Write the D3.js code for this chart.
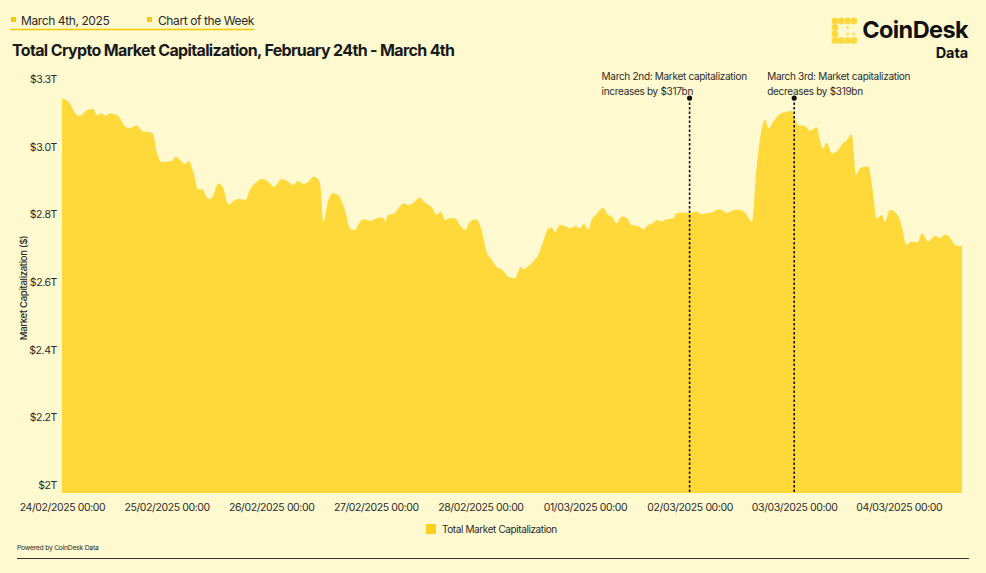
<!DOCTYPE html>
<html>
<head>
<meta charset="utf-8">
<script src="https://cdn.jsdelivr.net/npm/d3@7"></script>
<style>
  body { margin: 0; background: #fef9cf; }
  svg { display: block; font-family: "Inter", "Liberation Sans", sans-serif; }
</style>
</head>
<body>
<div id="chart"></div>
<script>
// ---- data ----
const startDate = "2025-02-24T00:00";
const endHours = 206.5;
// hours since 24/02/2025 00:00
const hoursFromStart = [
  0, 1.8, 2.6, 3.7, 4.5, 5.7, 7.2, 8.0, 9.1, 9.9, 11.0, 12.6, 13.3, 14.5, 15.6, 17.1, 18.7, 19.8, 20.9, 21.7,
  22.9, 24.0, 25.2, 26.1, 27.1, 28.2, 29.1, 30.1, 31.3, 32.1, 33.6, 34.3, 35.9, 37.0, 38.2, 39.7, 40.8, 42.1, 43.1, 44.7,
  45.8, 47.3, 48.7, 50.4, 51.9, 53.1, 54.1, 55.4, 56.5, 57.7, 58.4, 59.2, 60.0, 61.1, 62.2, 63.4, 64.9, 66.1, 67.1, 68.4,
  69.5, 70.7, 72.2, 73.4, 74.1, 74.9, 76.0, 77.2, 78.3, 79.5, 80.6, 82.1, 83.3, 84.8, 86.0, 86.9, 87.9, 89.0, 90.2, 91.3,
  92.5, 93.6, 95.0, 95.9, 96.7, 97.4, 98.6, 99.7, 100.9, 102.0, 102.8, 103.9, 104.7, 105.2, 105.8, 107.0, 108.1, 109.3, 110.4, 111.6,
  112.4, 113.1, 114.3, 115.4, 116.6, 117.7, 118.9, 119.6, 120.8, 121.5, 122.7, 124.2, 125.1, 126.1, 127.3, 128.4, 129.6, 130.7, 132.2, 133.4,
  134.5, 135.7, 136.5, 137.6, 138.7, 140.3, 141.0, 142.6, 144.1, 145.6, 146.8, 147.9, 149.1, 150.6, 151.7, 152.5, 153.7, 155.2, 156.7, 158.3,
  159.4, 160.5, 161.3, 162.1, 163.2, 164.7, 166.3, 167.4, 168.2, 168.9, 170.5, 171.6, 173.2, 173.9, 174.5, 175.5, 176.6, 178.1, 179.1, 180.1,
  181.2, 182.2, 183.1, 185.0, 186.0, 186.9, 188.1, 188.8, 190.0, 191.9, 192.9, 193.7, 195.0, 196.3, 197.3, 198.8, 200.3, 201.3, 202.6, 203.7,
  204.9, 206.0, 206.5
];
// total market cap, trillions of USD
const marketCapT = [
  3.167, 3.152, 3.132, 3.115, 3.117, 3.132, 3.135, 3.117, 3.122, 3.115, 3.122, 3.117, 3.108, 3.083, 3.078, 3.086, 3.068, 3.068, 3.060, 3.009,
  2.978, 2.979, 2.981, 2.994, 2.984, 2.972, 2.981, 2.950, 2.896, 2.899, 2.869, 2.871, 2.915, 2.901, 2.853, 2.866, 2.869, 2.866, 2.896, 2.920,
  2.928, 2.920, 2.905, 2.927, 2.920, 2.910, 2.923, 2.913, 2.920, 2.935, 2.932, 2.915, 2.802, 2.866, 2.886, 2.881, 2.837, 2.782, 2.777, 2.802,
  2.809, 2.804, 2.812, 2.814, 2.805, 2.822, 2.824, 2.842, 2.856, 2.851, 2.858, 2.873, 2.858, 2.845, 2.822, 2.832, 2.807, 2.812, 2.812, 2.792,
  2.777, 2.802, 2.809, 2.792, 2.753, 2.713, 2.689, 2.669, 2.661, 2.644, 2.636, 2.635, 2.654, 2.669, 2.661, 2.671, 2.684, 2.704, 2.743, 2.782,
  2.785, 2.772, 2.792, 2.789, 2.782, 2.789, 2.782, 2.795, 2.779, 2.807, 2.825, 2.842, 2.824, 2.817, 2.797, 2.817, 2.812, 2.792, 2.789, 2.779,
  2.792, 2.799, 2.807, 2.802, 2.809, 2.812, 2.827, 2.829, 2.827, 2.832, 2.824, 2.827, 2.829, 2.839, 2.834, 2.827, 2.834, 2.837, 2.829, 2.802,
  2.965, 3.073, 3.103, 3.078, 3.098, 3.120, 3.127, 3.130, 3.108, 3.088, 3.085, 3.071, 3.081, 3.043, 3.019, 3.035, 3.004, 3.014, 3.032, 3.043,
  3.060, 2.940, 2.960, 2.965, 2.896, 2.812, 2.822, 2.802, 2.837, 2.817, 2.777, 2.733, 2.743, 2.740, 2.768, 2.743, 2.760, 2.753, 2.763, 2.755,
  2.733, 2.730, 2.730
];
const yTickValues = [2, 2.2, 2.4, 2.6, 2.8, 3.0, 3.2];
const yTickLabels = ["$2T", "$2.2T", "$2.4T", "$2.6T", "$2.8T", "$3.0T", "$3.3T"];
const eventDates = ["2025-03-02T00:00", "2025-03-03T00:00"];
const eventLines1 = ["March 2nd: Market capitalization", "March 3rd: Market capitalization"];
const eventLines2 = ["increases by $317bn", "decreases by $319bn"];

const title = "Total Crypto Market Capitalization, February 24th - March 4th";
const dateLabel = "March 4th, 2025";
const tagLabel = "Chart of the Week";
const seriesName = "Total Market Capitalization";

// ---- layout ----
const W = 986, H = 573;
const yellow = "#ffd93a", bg = "#fef9cf", ink = "#2b2b2b";
const plot = {left: 62, right: 962, top: 87, bottom: 493};
const eventLabelOffset = [-88, -27];   // label start relative to the dashed line

const t0 = new Date(startDate);
const toDate = h => new Date(t0.getTime() + h * 3600e3);
const data = hoursFromStart.map((h, i) => ({date: toDate(h), value: marketCapT[i]}));

const x = d3.scaleTime().domain([t0, toDate(endHours)]).range([plot.left, plot.right]);
const y = d3.scaleLinear().domain([2, 3.2]).range([plot.bottom, plot.top]);

const svg = d3.select("#chart").append("svg")
    .attr("width", W).attr("height", H);

svg.append("rect").attr("width", W).attr("height", H).attr("fill", bg);

// header
const header = svg.append("g");
header.append("rect").attr("x", 11).attr("y", 17).attr("width", 5).attr("height", 5).attr("fill", "#f5c800");
header.append("text").attr("x", 21).attr("y", 24.5).attr("font-size", 12).attr("fill", ink)
    .attr("letter-spacing", -0.4).text(dateLabel);
header.append("rect").attr("x", 147).attr("y", 17).attr("width", 5).attr("height", 5).attr("fill", "#f5c800");
header.append("text").attr("x", 158).attr("y", 24.5).attr("font-size", 12).attr("fill", ink)
    .attr("letter-spacing", -0.4).text(tagLabel);
header.append("line").attr("x1", 10).attr("x2", 254).attr("y1", 29.5).attr("y2", 29.5)
    .attr("stroke", "#f5c800").attr("stroke-width", 1.5);
header.append("text").attr("x", 12).attr("y", 55.5).attr("font-size", 16).attr("font-weight", 700)
    .attr("letter-spacing", -0.65).attr("fill", "#1a1a1a").text(title);

// logo
const logo = svg.append("g").attr("fill", yellow);
const logoCells = [[0,0,1],[1,0,1],[2,0,1],[3,0,1],[0,1,1],[0,2,1],[0,3,1],[1,3,1],[2,3,1],[3,3,1],[2,1,0],[3,2,0],[2,2,0]];
logoCells.forEach(([c, r, big]) => {
  const s = big ? 6.4 : 2.6;
  logo.append("rect").attr("x", 835 + c * 6.3 - s / 2).attr("y", 21 + r * 6.5 - s / 2)
      .attr("width", s).attr("height", s).attr("rx", big ? 2.2 : 1.3);
});
svg.append("text").attr("x", 968).attr("y", 37.5).attr("text-anchor", "end").attr("font-size", 23.5)
    .attr("font-weight", 700).attr("letter-spacing", -0.6).attr("fill", "#111").text("CoinDesk");
svg.append("text").attr("x", 968).attr("y", 58).attr("text-anchor", "end").attr("font-size", 14.5)
    .attr("font-weight", 700).attr("letter-spacing", -0.1).attr("fill", "#111").text("Data");

// area
const area = d3.area()
    .x(d => x(d.date))
    .y0(y(2))
    .y1(d => y(d.value))
    .curve(d3.curveMonotoneX);
svg.append("path").datum(data).attr("d", area).attr("fill", yellow);

// y axis (labels only)
const yAxis = svg.append("g").attr("font-size", 10.5).attr("fill", ink);
yTickValues.forEach((v, i) => {
  yAxis.append("text").attr("x", 57).attr("y", y(v) - 4).attr("text-anchor", "end")
      .attr("letter-spacing", -0.4).text(yTickLabels[i]);
});
svg.append("text").attr("transform", "translate(26.5,288) rotate(-90)").attr("text-anchor", "middle")
    .attr("font-size", 9.5).attr("font-weight", 500).attr("letter-spacing", -0.3).attr("fill", ink)
    .text("Market Capitalization ($)");

// x axis (labels only)
const xAxis = d3.axisBottom(x)
    .ticks(d3.timeDay.every(1))
    .tickFormat(d3.timeFormat("%d/%m/%Y %H:%M"))
    .tickSize(0).tickPadding(11);
svg.append("g").attr("transform", `translate(0,${plot.bottom})`).call(xAxis)
    .call(g => g.select(".domain").remove())
    .call(g => g.selectAll("text").attr("font-family", "Inter, sans-serif").attr("font-size", 10.5)
        .attr("letter-spacing", -0.4).attr("fill", ink));

// events
eventDates.forEach((ds, i) => {
  const ex = x(new Date(ds));
  svg.append("line").attr("x1", ex).attr("x2", ex).attr("y1", 98).attr("y2", plot.bottom)
      .attr("stroke", "#111").attr("stroke-width", 1.6).attr("stroke-dasharray", "2.5,2");
  svg.append("circle").attr("cx", ex).attr("cy", 98).attr("r", 2.6).attr("fill", "#111");
  const lbl = svg.append("text").attr("font-size", 10).attr("fill", ink).attr("letter-spacing", -0.3);
  lbl.append("tspan").attr("x", ex + eventLabelOffset[i]).attr("y", 80).text(eventLines1[i]);
  lbl.append("tspan").attr("x", ex + eventLabelOffset[i]).attr("y", 95).text(eventLines2[i]);
});

// legend
svg.append("rect").attr("x", 426).attr("y", 524).attr("width", 10).attr("height", 10).attr("fill", "#ffd21f");
svg.append("text").attr("x", 442).attr("y", 532.5).attr("font-size", 10).attr("fill", ink)
    .attr("letter-spacing", -0.4).text(seriesName);

// footer
svg.append("text").attr("x", 17).attr("y", 550).attr("font-size", 6.8).attr("fill", ink)
    .attr("letter-spacing", -0.25).text("Powered by CoinDesk Data");
svg.append("line").attr("x1", 17).attr("x2", 969).attr("y1", 558.5).attr("y2", 558.5)
    .attr("stroke", "#333").attr("stroke-width", 1);
</script>
</body>
</html>
